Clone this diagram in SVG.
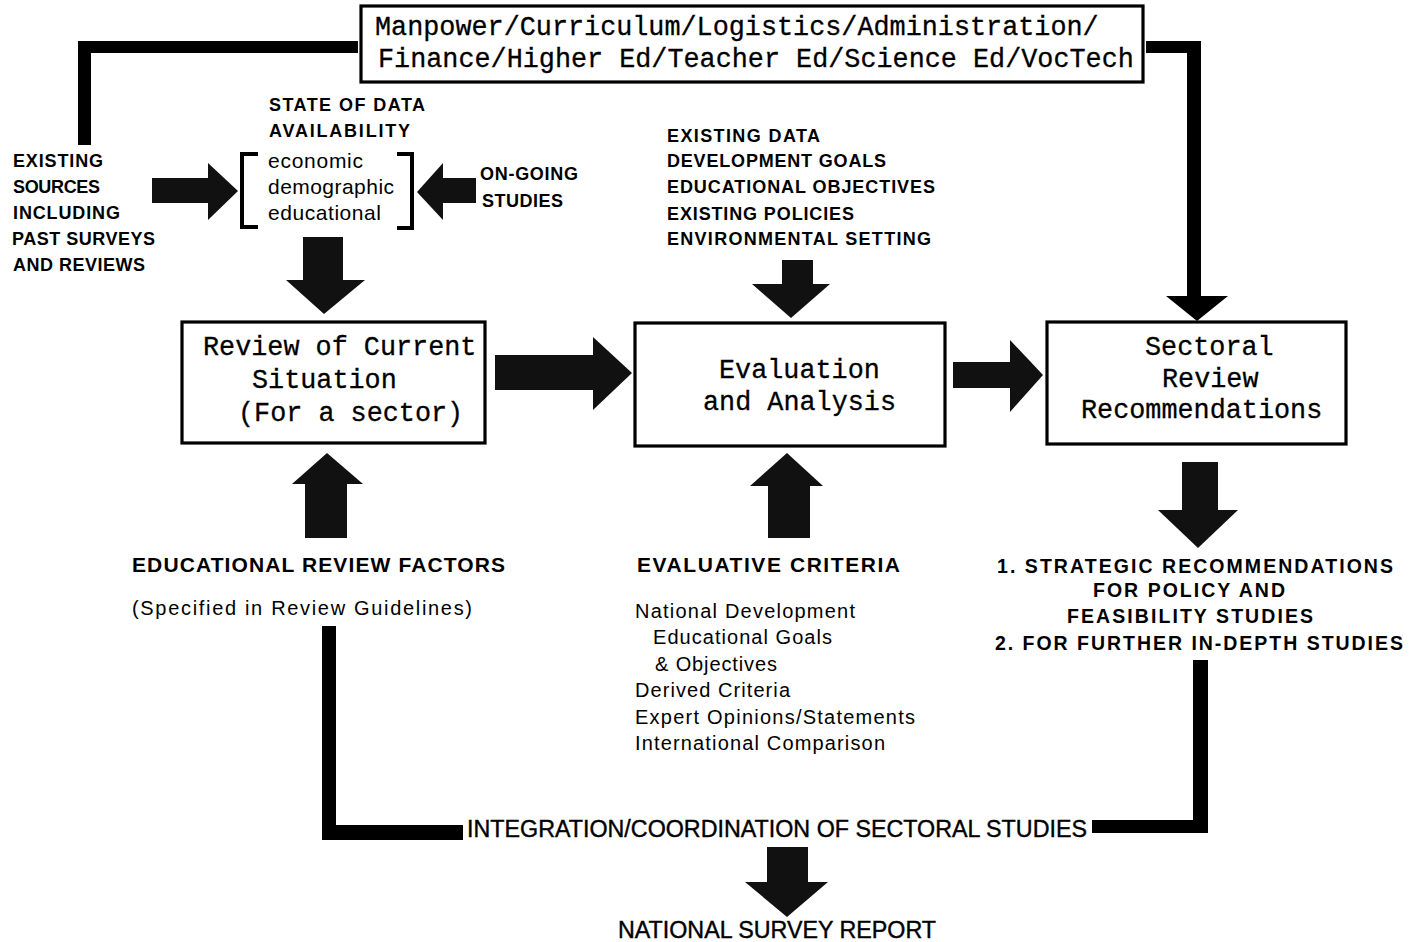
<svg xmlns="http://www.w3.org/2000/svg" width="1416" height="942" viewBox="0 0 1416 942">
<style>
.bg{fill:#fff}
.box{fill:#fff;stroke:#000;stroke-width:3.2}
.mono{font-family:"Liberation Mono","Courier New",monospace;font-size:26.8px;fill:#000;stroke:#000;stroke-width:0.3}
.b18{font-family:"Liberation Sans",Arial,sans-serif;font-weight:bold;font-size:18px;fill:#000}
.b20{font-family:"Liberation Sans",Arial,sans-serif;font-weight:bold;font-size:19.5px;fill:#000}
.b21{font-family:"Liberation Sans",Arial,sans-serif;font-weight:bold;font-size:21px;fill:#000}
.r20{font-family:"Liberation Sans",Arial,sans-serif;font-size:20px;fill:#000}
.r21{font-family:"Liberation Sans",Arial,sans-serif;font-size:21px;fill:#000}
.nar{font-family:"Liberation Sans Narrow","Liberation Sans",Arial,sans-serif;font-size:23px;fill:#000;stroke:#000;stroke-width:0.4}
.fat{fill:#111}
.bar{fill:#000}
.brk{fill:none;stroke:#000;stroke-width:4}
</style>
<rect class="bg" x="0" y="0" width="1416" height="942"/>

<g id="connectors">
  <rect class="bar" x="78" y="41" width="280" height="12"/>
  <rect class="bar" x="78" y="41" width="13" height="104"/>
  <rect class="bar" x="1146" y="41" width="55" height="12"/>
  <rect class="bar" x="1187" y="41" width="14" height="257"/>
  <polygon class="bar" points="1166,296 1228,296 1197,321"/>
  <rect class="bar" x="322" y="626" width="14" height="214"/>
  <rect class="bar" x="322" y="825" width="141" height="15"/>
  <rect class="bar" x="1193" y="660" width="15" height="173"/>
  <rect class="bar" x="1092" y="820" width="116" height="13"/>
  <g id="arrow-sources">
    <rect class="fat" x="152" y="178" width="57" height="25"/>
    <polygon class="fat" points="208,163 238,191 208,220"/>
  </g>
  <g id="arrow-ongoing">
    <rect class="fat" x="442" y="178" width="34" height="25"/>
    <polygon class="fat" points="443,163 417,192 443,220"/>
  </g>
  <g id="arrow-data-down">
    <rect class="fat" x="303" y="237" width="40" height="44"/>
    <polygon class="fat" points="286,280 365,280 324,314"/>
  </g>
  <g id="arrow-env-down">
    <rect class="fat" x="782" y="260" width="31" height="25"/>
    <polygon class="fat" points="752,284 830,284 791,318"/>
  </g>
  <g id="arrow-review-eval">
    <rect class="fat" x="495" y="355" width="99" height="35"/>
    <polygon class="fat" points="593,337 632,373 593,410"/>
  </g>
  <g id="arrow-eval-sect">
    <rect class="fat" x="953" y="362" width="58" height="26"/>
    <polygon class="fat" points="1010,340 1043,375 1010,412"/>
  </g>
  <g id="arrow-factors-up">
    <rect class="fat" x="305" y="482" width="42" height="56"/>
    <polygon class="fat" points="292,484 363,484 327,453"/>
  </g>
  <g id="arrow-criteria-up">
    <rect class="fat" x="768" y="484" width="42" height="54"/>
    <polygon class="fat" points="750,486 823,486 787,453"/>
  </g>
  <g id="arrow-sect-down">
    <rect class="fat" x="1182" y="462" width="36" height="49"/>
    <polygon class="fat" points="1158,510 1238,510 1198,548"/>
  </g>
  <g id="arrow-report-down">
    <rect class="fat" x="767" y="847" width="41" height="36"/>
    <polygon class="fat" points="745,882 828,882 787,917"/>
  </g>
</g>

<g id="node-sectors">
  <rect class="box" x="361" y="6" width="782" height="76"/>
  <text class="mono" x="375" y="35">Manpower/Curriculum/Logistics/Administration/</text>
  <text class="mono" x="378" y="67">Finance/Higher Ed/Teacher Ed/Science Ed/VocTech</text>
</g>

<g id="node-existing-sources">
  <text class="b18" x="13" y="167" textLength="90" lengthAdjust="spacing">EXISTING</text>
  <text class="b18" x="13" y="193" textLength="87" lengthAdjust="spacing">SOURCES</text>
  <text class="b18" x="13" y="219" textLength="107" lengthAdjust="spacing">INCLUDING</text>
  <text class="b18" x="12" y="245" textLength="143" lengthAdjust="spacing">PAST SURVEYS</text>
  <text class="b18" x="13" y="271" textLength="132" lengthAdjust="spacing">AND REVIEWS</text>
</g>

<g id="node-data-availability">
  <text class="b18" x="269" y="111" textLength="156" lengthAdjust="spacing">STATE OF DATA</text>
  <text class="b18" x="269" y="137" textLength="141" lengthAdjust="spacing">AVAILABILITY</text>
  <path class="brk" d="M258,154 H242 V227 H258"/>
  <path class="brk" d="M397,154 H412 V228 H397"/>
  <text class="r21" x="268" y="168" textLength="95" lengthAdjust="spacing">economic</text>
  <text class="r21" x="268" y="194" textLength="126" lengthAdjust="spacing">demographic</text>
  <text class="r21" x="268" y="220" textLength="113" lengthAdjust="spacing">educational</text>
</g>

<g id="node-ongoing">
  <text class="b18" x="480" y="180" textLength="98" lengthAdjust="spacing">ON-GOING</text>
  <text class="b18" x="482" y="207" textLength="81" lengthAdjust="spacing">STUDIES</text>
</g>

<g id="node-inputs">
  <text class="b18" x="667" y="142" textLength="153" lengthAdjust="spacing">EXISTING DATA</text>
  <text class="b18" x="667" y="167" textLength="219" lengthAdjust="spacing">DEVELOPMENT GOALS</text>
  <text class="b18" x="667" y="193" textLength="268" lengthAdjust="spacing">EDUCATIONAL OBJECTIVES</text>
  <text class="b18" x="667" y="220" textLength="187" lengthAdjust="spacing">EXISTING POLICIES</text>
  <text class="b18" x="667" y="245" textLength="264" lengthAdjust="spacing">ENVIRONMENTAL SETTING</text>
</g>

<g id="node-review">
  <rect class="box" x="182" y="322" width="303" height="121"/>
  <text class="mono" x="203" y="355">Review of Current</text>
  <text class="mono" x="252" y="388">Situation</text>
  <text class="mono" x="238" y="421">(For a sector)</text>
</g>

<g id="node-evaluation">
  <rect class="box" x="635" y="323" width="310" height="123"/>
  <text class="mono" x="719" y="378">Evaluation</text>
  <text class="mono" x="703" y="410">and Analysis</text>
</g>

<g id="node-sectoral">
  <rect class="box" x="1047" y="322" width="299" height="122"/>
  <text class="mono" x="1145" y="355">Sectoral</text>
  <text class="mono" x="1162" y="387">Review</text>
  <text class="mono" x="1081" y="418">Recommendations</text>
</g>

<g id="node-factors">
  <text class="b21" x="132" y="572" textLength="373" lengthAdjust="spacing">EDUCATIONAL REVIEW FACTORS</text>
  <text class="r20" x="132" y="615" textLength="340" lengthAdjust="spacing">(Specified in Review Guidelines)</text>
</g>

<g id="node-criteria">
  <text class="b21" x="637" y="572" textLength="263" lengthAdjust="spacing">EVALUATIVE CRITERIA</text>
  <text class="r20" x="635" y="618" textLength="220" lengthAdjust="spacing">National Development</text>
  <text class="r20" x="653" y="644" textLength="179" lengthAdjust="spacing">Educational Goals</text>
  <text class="r20" x="655" y="671" textLength="122" lengthAdjust="spacing">&amp; Objectives</text>
  <text class="r20" x="635" y="697" textLength="155" lengthAdjust="spacing">Derived Criteria</text>
  <text class="r20" x="635" y="724" textLength="280" lengthAdjust="spacing">Expert Opinions/Statements</text>
  <text class="r20" x="635" y="750" textLength="250" lengthAdjust="spacing">International Comparison</text>
</g>

<g id="node-outcomes">
  <text class="b20" x="997" y="573" textLength="396" lengthAdjust="spacing">1. STRATEGIC RECOMMENDATIONS</text>
  <text class="b20" x="1093" y="597" textLength="192" lengthAdjust="spacing">FOR POLICY AND</text>
  <text class="b20" x="1067" y="623" textLength="246" lengthAdjust="spacing">FEASIBILITY STUDIES</text>
  <text class="b20" x="995" y="650" textLength="408" lengthAdjust="spacing">2. FOR FURTHER IN-DEPTH STUDIES</text>
</g>

<g id="node-integration">
  <text class="nar" x="467" y="837" textLength="620" lengthAdjust="spacingAndGlyphs">INTEGRATION/COORDINATION OF SECTORAL STUDIES</text>
</g>

<g id="node-report">
  <text class="nar" x="618" y="938" textLength="318" lengthAdjust="spacingAndGlyphs">NATIONAL SURVEY REPORT</text>
</g>
</svg>
